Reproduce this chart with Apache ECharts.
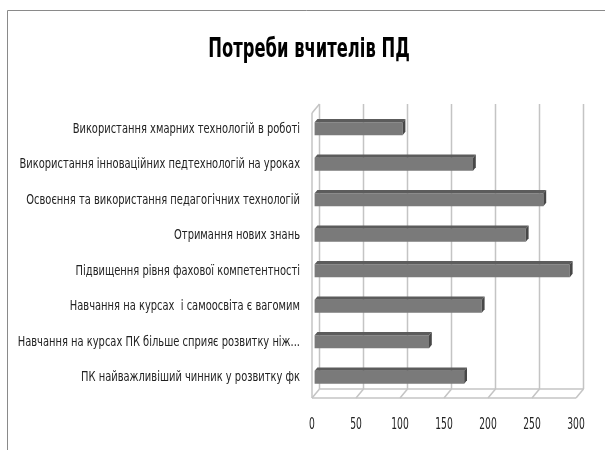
<!DOCTYPE html>
<html>
<head>
<meta charset="utf-8">
<script src="https://cdn.jsdelivr.net/npm/echarts@6/dist/echarts.min.js"></script>
<style>
  html, body { margin: 0; padding: 0; background: #fff; }
  #chart { width: 605px; height: 450px; }
</style>
</head>
<body>
<div id="chart"></div>
<script>
const categories = [
    'Використання хмарних технологій в роботі',
    'Використання інноваційних педтехнологій на уроках',
    'Освоєння та використання педагогічних технологій',
    'Отримання нових знань',
    'Підвищення рівня фахової компетентності',
    'Навчання на курсах  і самоосвіта є вагомим',
    'Навчання на курсах ПК більше сприяє розвитку ніж...',
    'ПК найважливіший чинник у розвитку фк'
]
const values = [100, 180, 260, 240, 290, 190, 130, 170]
const tickValues = [0, 50, 100, 150, 200, 250, 300]
const chartTitle = 'Потреби вчителів ПД'

const FONT = '"DejaVu Sans Condensed", "Liberation Sans", sans-serif'
const TEXT_COLOR = '#222'

// depth of the 3d box (back wall offset) and of a bar
const WALL_DX = 7.5, WALL_DY = -9
const BAR_SHIFT = 2.6
const BAR_DX = 2.8, BAR_DY = -3.3
const GRID_COLOR = '#c4c4c4'

const chartDiv = document.getElementById('chart')
const myChart = echarts.init(chartDiv)

function line(x1, y1, x2, y2) {
    return {
        type: 'line',
        shape: { x1, y1, x2, y2 },
        style: { stroke: GRID_COLOR, lineWidth: 1.5 }
    }
}

// narrow text: the original uses a condensed font, so squeeze it
function squeezedText(text, x, y, size, align, scale) {
    return {
        type: 'text',
        x: x,
        y: y,
        scaleX: scale,
        style: {
            text: text,
            align: align,
            verticalAlign: 'middle',
            font: size + 'px ' + FONT,
            fill: TEXT_COLOR
        }
    }
}

function renderWall(params, api) {
    const cs = params.coordSys
    const v = api.value(0)
    const x = api.coord([v, 0])[0]
    const frontFloor = cs.y + cs.height + 3
    const backFloor = frontFloor + WALL_DY
    const backTop = cs.y - 7
    const children = [
        line(x + WALL_DX, backTop, x + WALL_DX, backFloor),
        line(x, frontFloor, x + WALL_DX, backFloor),
        squeezedText(String(v), x, frontFloor + 27, 15, 'center', 0.68)
    ]
    if (params.dataIndex === 0) {
        const xEnd = api.coord([tickValues[tickValues.length - 1], 0])[0]
        children.push(line(x, backTop - WALL_DY, x, frontFloor))
        children.push(line(x, backTop - WALL_DY, x + WALL_DX, backTop))
        children.push(line(x, frontFloor, xEnd, frontFloor))
        children.push(line(x + WALL_DX, backFloor, xEnd + WALL_DX, backFloor))
    }
    return { type: 'group', children }
}

function renderBar(params, api) {
    const cs = params.coordSys
    const start = api.coord([0, api.value(1)])
    const end = api.coord([api.value(0), api.value(1)])
    const band = api.size([0, 1])[1]
    const h = band * 0.36
    const x0 = start[0] + BAR_SHIFT
    const x1 = end[0] + BAR_SHIFT
    const yt = end[1] - h / 2
    const yb = end[1] + h / 2
    return {
        type: 'group',
        children: [
            {
                type: 'rect',
                shape: { x: x0, y: yt, width: x1 - x0, height: h },
                style: { fill: '#7a7a7a' }
            },
            {
                type: 'polygon',
                shape: { points: [[x0, yt], [x0 + BAR_DX, yt + BAR_DY], [x1 + BAR_DX, yt + BAR_DY], [x1, yt]] },
                style: { fill: '#5c5c5c' }
            },
            {
                type: 'polygon',
                shape: { points: [[x1, yt], [x1 + BAR_DX, yt + BAR_DY], [x1 + BAR_DX, yb + BAR_DY], [x1, yb]] },
                style: { fill: '#474747' }
            },
            squeezedText(categories[api.value(1)], cs.x - 12, end[1], 14.5, 'right', 0.76)
        ]
    }
}

myChart.setOption({
    animation: false,
    graphic: [
        {
            type: 'rect',
            shape: { x: 7.5, y: 10.5, width: 700, height: 600 },
            style: { fill: null, stroke: '#8a8a8a', lineWidth: 1 },
            silent: true
        },
        {
            type: 'text',
            x: 309,
            y: 50,
            scaleX: 0.7,
            style: {
                text: chartTitle,
                align: 'center',
                verticalAlign: 'middle',
                font: 'bold 26px ' + FONT,
                fill: '#000'
            }
        }
    ],
    grid: { left: 312, right: 29, top: 111, bottom: 55, containLabel: false, outerBoundsMode: 'none' },
    xAxis: {
        type: 'value',
        min: 0,
        max: 300,
        interval: 50,
        axisLine: { show: false },
        axisTick: { show: false },
        splitLine: { show: false },
        axisLabel: { show: false }
    },
    yAxis: {
        type: 'category',
        data: categories,
        inverse: true,
        axisLine: { show: false },
        axisTick: { show: false },
        axisLabel: { show: false }
    },
    series: [
        {
            type: 'custom',
            silent: true,
            renderItem: renderWall,
            data: tickValues.map((v) => [v, 0]),
            z: 1
        },
        {
            type: 'custom',
            renderItem: renderBar,
            encode: { x: 0, y: 1 },
            data: values.map((v, i) => [v, i]),
            z: 2
        }
    ]
})
</script>
</body>
</html>
